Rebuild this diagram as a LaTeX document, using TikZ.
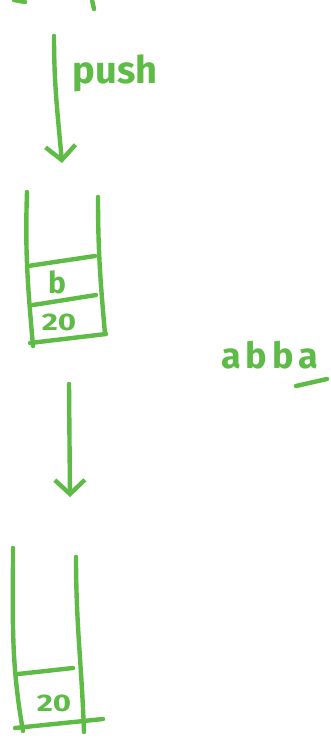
\documentclass[tikz,border=0pt]{standalone}
\usepackage{fontspec}
\setmainfont{Fira Sans}
\usetikzlibrary{arrows.meta}
\definecolor{penGreen}{HTML}{5DBB46}

\begin{document}
\begin{tikzpicture}[
    x=1pt, y=-1pt,
    pen/.style={draw=penGreen, line width=4.4pt, line cap=round, line join=round},
    arrow/.style={pen, -{Straight Barb[length=14pt, width=30pt, line width=4.4pt]}},
    ink/.style={text=penGreen, inner sep=0pt, font=\fontsize{#1}{#1}\selectfont\bfseries}
]
  \useasboundingbox (0,0) rectangle (331,739);

  % Cut-off strokes at the top edge
  \draw[pen] (14,0) -- (25,2);
  \draw[pen] (92,0) -- (94,9);

  % Stack one
  \coordinate (stackA-tl) at (27,192);
  \coordinate (stackA-bl) at (33,346);
  \coordinate (stackA-tr) at (98,197);
  \coordinate (stackA-br) at (105,334);
  \draw[pen] (stackA-tl) to[out=-92,in=95] (stackA-bl);
  \draw[pen] (stackA-tr) to[out=-90,in=95] (stackA-br);
  \draw[pen] (28,266) -- (95,256);
  \draw[pen] (33,305) -- (96,295);
  \draw[pen] (30,343) -- (106,334);

  % Stack two
  \coordinate (stackB-tl) at (13,548);
  \coordinate (stackB-bl) at (23,731);
  \coordinate (stackB-tr) at (76,557);
  \coordinate (stackB-br) at (84,732);
  \draw[pen] (stackB-tl) to[out=-90,in=100] (stackB-bl);
  \draw[pen] (stackB-tr) to[out=-90,in=92] (stackB-br);
  \draw[pen] (18,674) -- (73,668);
  \draw[pen] (15,728) -- (103,719);

  % Nodes
  \node[ink=38] (push) at (115,73) {push};
  \node[ink=30] (topB) at (57,282) {b};
  \node[ink=24, xscale=1.3] (lowA) at (59,322) {20};
  \node[ink=24, xscale=1.3] (lowB) at (54,703) {20};
  \node[ink=36] (word) at (270,355) {a\hspace{5pt}b\hspace{5pt}b\hspace{5pt}a};
  \coordinate (markL) at (296,386);
  \coordinate (markR) at (327,379);

  % Edges
  \coordinate (pushFrom) at (54,36);
  \coordinate (pushTo) at (62,163);
  \draw[arrow] (pushFrom) to[out=-90,in=95] (pushTo);
  \coordinate (popFrom) at (69,384);
  \coordinate (popTo) at (70,497);
  \draw[arrow] (popFrom) -- (popTo);
  \draw[pen] (markL) -- (markR);

\end{tikzpicture}
\end{document}
